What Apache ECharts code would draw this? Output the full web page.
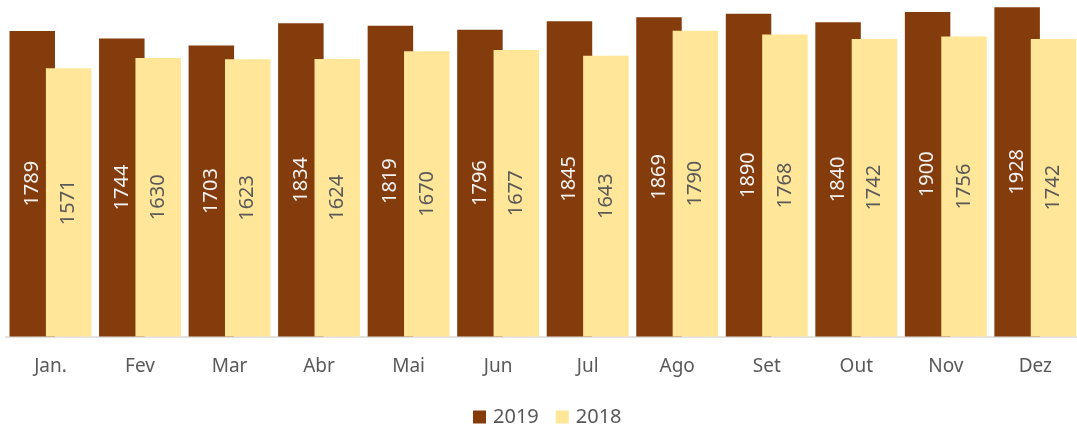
<!DOCTYPE html>
<html>
<head>
<meta charset="utf-8">
<script src="https://cdn.jsdelivr.net/npm/echarts@6/dist/echarts.min.js"></script>
<style>
  html,body{margin:0;padding:0;background:#fff;overflow:hidden;}
  #main{width:1081px;height:432px;}
</style>
</head>
<body>
<div id="main"></div>
<script>
var months=['Jan.','Fev','Mar','Abr','Mai','Jun','Jul','Ago','Set','Out','Nov','Dez'];
var data2019=[1789,1744,1703,1834,1819,1796,1845,1869,1890,1840,1900,1928];
var data2018=[1571,1630,1623,1624,1670,1677,1643,1790,1768,1742,1756,1742];

var font='"Noto Sans", sans-serif';

var chart=echarts.init(document.getElementById('main'));
chart.setOption({
    animation:false,
    grid:{left:5.7,right:0.9,top:0,bottom:95.5,containLabel:false},
    legend:{
        data:['2019','2018'],
        top:402,
        left:468,
        itemWidth:13,
        itemHeight:13,
        itemGap:17,
        icon:'rect',
        textStyle:{fontFamily:font,fontSize:20,color:'#595959',padding:[0,0,0,2]}
    },
    xAxis:{
        type:'category',
        data:months,
        axisTick:{show:false},
        axisLine:{lineStyle:{color:'#d9d9d9',width:1.5}},
        axisLabel:{fontFamily:font,fontSize:19,color:'#595959',margin:21}
    },
    yAxis:{
        type:'value',
        min:0,
        max:1970,
        show:false,
        splitLine:{show:false}
    },
    series:[
        {
            name:'2019',
            type:'bar',
            data:data2019,
            barWidth:45.5,
            barGap:'-20%',
            itemStyle:{color:'#843C0C'},
            label:{show:true,position:'inside',rotate:90,fontFamily:font,fontSize:20,color:'#f2f2f2'}
        },
        {
            name:'2018',
            type:'bar',
            data:data2018,
            barWidth:45.5,
            itemStyle:{color:'#FFE699'},
            label:{show:true,position:'inside',rotate:90,fontFamily:font,fontSize:20,color:'#595959'}
        }
    ]
});
</script>
</body>
</html>
